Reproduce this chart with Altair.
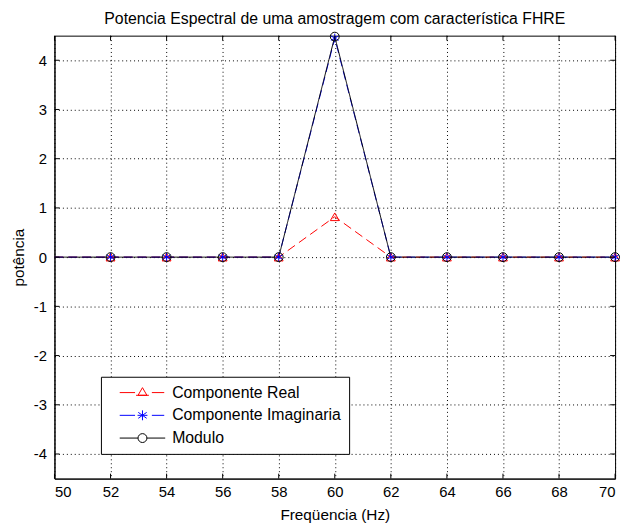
import altair as alt
import pandas as pd

# ---- data ----
freq = [50, 52, 54, 56, 58, 60, 62, 64, 66, 68, 70]
real = [0, 0, 0, 0, 0, 0.82, 0, 0, 0, 0, 0]
imag = [0, 0, 0, 0, 0, 4.45, 0, 0, 0, 0, 0]
modulo = [0, 0, 0, 0, 0, 4.48, 0, 0, 0, 0, 0]
series_names = ["Componente Real", "Componente Imaginaria", "Modulo"]
x_ticks = [50, 52, 54, 56, 58, 60, 62, 64, 66, 68, 70]
y_ticks = [-4, -3, -2, -1, 0, 1, 2, 3, 4]

W, H = 567, 448
FONT = "Liberation Sans"

rows = []
for name, vals in zip(series_names, [real, imag, modulo]):
    for f, v in zip(freq, vals):
        rows.append({"freq": f, "value": v, "series": name})
df = pd.DataFrame(rows)

colors = ["#ff0000", "#0000ff", "#000000"]
asterisk = "M0,-1V1M-0.87,-0.5L0.87,0.5M-0.87,0.5L0.87,-0.5"
marker_shapes = ["triangle-up", asterisk, "circle"]
legend_shapes = [
    "M-4.6,0H-1.5M-0.9,0.55L0,-1L0.9,0.55ZM-1.3,0.55H1.3M1.9,0H4.4",
    "M-4.6,0H-1.5M-1,0H1M0,-1V1M-0.85,-0.6L0.85,0.6M-0.85,0.6L0.85,-0.6M1.9,0H4.4",
    "M-4.6,0H-0.9M0.9,0H4.6M-0.9,0A0.9,0.9 0 1,0 0.9,0A0.9,0.9 0 1,0 -0.9,0",
]

xscale = alt.Scale(domain=[50, 70], nice=False, zero=False)
yscale = alt.Scale(domain=[-4.5, 4.5], nice=False, zero=False)

xenc = alt.X("freq:Q", scale=xscale, axis=alt.Axis(
    values=x_ticks, title="Freqüencia (Hz)", grid=True, ticks=False,
    labelPadding=6, titlePadding=8, labelExpr="'' + datum.value"))
yenc = alt.Y("value:Q", scale=yscale, axis=alt.Axis(
    values=y_ticks, title="potência", grid=True, ticks=False,
    labelPadding=8, titlePadding=7, labelExpr="'' + datum.value"))

base = alt.Chart(df)

lines = base.mark_line(strokeWidth=1, clip=True).encode(
    x=xenc, y=yenc,
    color=alt.Color("series:N", scale=alt.Scale(domain=series_names, range=colors), legend=None),
    strokeDash=alt.StrokeDash("series:N", scale=alt.Scale(domain=series_names, range=[[9, 5], [9, 5], [1, 0]]), legend=None),
    detail="series:N",
)

points = base.transform_filter(alt.datum.freq > 50).mark_point(
    filled=False, size=80, strokeWidth=1, opacity=1, clip=False).encode(
    x=alt.X("freq:Q", scale=xscale),
    y=alt.Y("value:Q", scale=yscale),
    color=alt.Color("series:N", scale=alt.Scale(domain=series_names, range=colors), legend=None),
    shape=alt.Shape("series:N", scale=alt.Scale(domain=series_names, range=marker_shapes), legend=None),
)

legend_layer = base.mark_point(filled=False, size=100, strokeWidth=1, opacity=0).encode(
    x=alt.X("freq:Q", scale=xscale),
    y=alt.Y("value:Q", scale=yscale),
    color=alt.Color("series:N", scale=alt.Scale(domain=series_names, range=colors), legend=alt.Legend(
        title=None, orient="none", legendX=47, legendY=345)),
    shape=alt.Shape("series:N", scale=alt.Scale(domain=series_names, range=legend_shapes), legend=alt.Legend(
        title=None, orient="none", legendX=47, legendY=345)),
)

xt = pd.DataFrame({"t": x_ticks})
yt = pd.DataFrame({"t": y_ticks})
tick_b = alt.Chart(xt).mark_rule(color="black", strokeWidth=1).encode(
    x=alt.X("t:Q", scale=xscale), y=alt.value(H), y2=alt.value(H - 5))
tick_t = alt.Chart(xt).mark_rule(color="black", strokeWidth=1).encode(
    x=alt.X("t:Q", scale=xscale), y=alt.value(0), y2=alt.value(5))
tick_l = alt.Chart(yt).mark_rule(color="black", strokeWidth=1).encode(
    y=alt.Y("t:Q", scale=yscale), x=alt.value(0), x2=alt.value(5))
tick_r = alt.Chart(yt).mark_rule(color="black", strokeWidth=1).encode(
    y=alt.Y("t:Q", scale=yscale), x=alt.value(W), x2=alt.value(W - 5))

chart = alt.layer(
    lines, points, legend_layer, tick_b, tick_t, tick_l, tick_r
).resolve_scale(
    color="independent", shape="independent", strokeDash="independent"
).properties(
    width=W, height=H,
    background="white",
    title=alt.Title("Potencia Espectral de uma amostragem com característica FHRE",
                    font=FONT, fontSize=16, fontWeight="normal", color="black", offset=3),
    autosize=alt.AutoSizeParams(type="none"),
    padding={"left": 47, "top": 25, "right": 8, "bottom": 48},
).configure_view(
    stroke="black", strokeWidth=1
).configure_axis(
    domain=True, domainColor="black", domainWidth=1,
    gridColor="black", gridDash=[1, 3], gridOpacity=1, gridWidth=1,
    labelFont=FONT, labelFontSize=15, labelColor="black",
    titleFont=FONT, titleFontSize=15.5, titleColor="black", titleFontWeight="normal",
).configure_legend(
    strokeColor="black", fillColor="white", padding=8, cornerRadius=0,
    labelFont=FONT, labelFontSize=16, labelColor="black", labelLimit=400,
    symbolOpacity=1, symbolStrokeWidth=1, symbolFillColor="transparent",
    symbolOffset=26, labelOffset=22, rowPadding=7,
)

chart.save("out.html", embed_options={"renderer": "svg", "actions": False})
